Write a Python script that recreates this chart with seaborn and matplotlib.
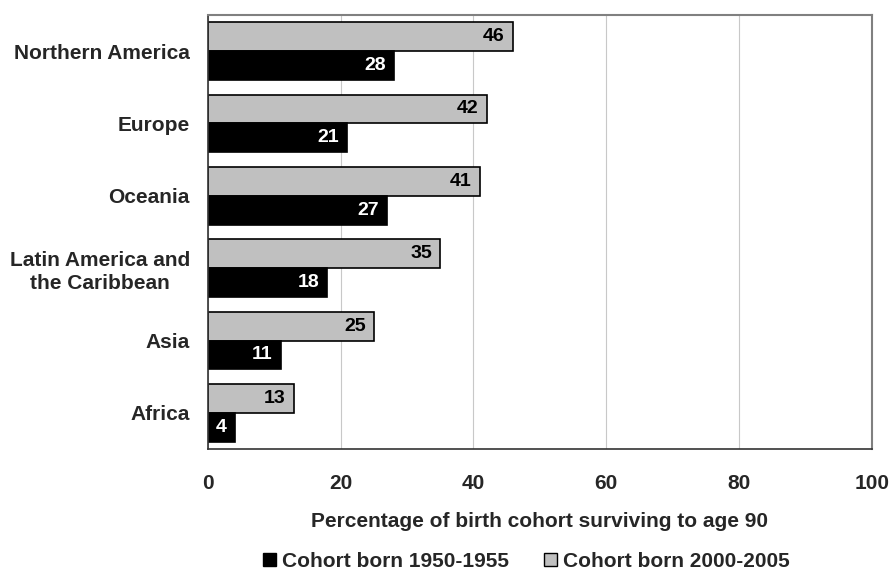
import matplotlib
matplotlib.use("Agg")
import matplotlib.pyplot as plt
from matplotlib.patches import Patch
import seaborn as sns
import pandas as pd

regions = ["Northern America", "Europe", "Oceania",
           "Latin America and\nthe Caribbean", "Asia", "Africa"]
cohort_2000 = [46, 42, 41, 35, 25, 13]
cohort_1950 = [28, 21, 27, 18, 11, 4]
label_2000 = "Cohort born 2000-2005"
label_1950 = "Cohort born 1950-1955"
x_ticks = [0, 20, 40, 60, 80, 100]

df = pd.DataFrame({
    "region": regions * 2,
    "value": cohort_2000 + cohort_1950,
    "cohort": [label_2000] * len(regions) + [label_1950] * len(regions),
})

sns.set_theme(style="white")
plt.rcParams["font.family"] = ["Liberation Sans", "DejaVu Sans"]
plt.rcParams["font.weight"] = "bold"

FS = 15

fig = plt.figure(figsize=(8.94, 5.75), dpi=100)
ax = fig.add_axes([0.2327, 0.2191, 0.7423, 0.7549])

palette = {label_2000: "#c0c0c0", label_1950: "#000000"}
sns.barplot(data=df, y="region", x="value", hue="cohort",
            hue_order=[label_2000, label_1950], order=regions,
            palette=palette, orient="h", width=0.8, saturation=1,
            edgecolor="black", linewidth=1.2, legend=False, ax=ax)

# value labels just inside the end of each bar
for cont, color in zip(ax.containers, ["black", "white"]):
    for bar, val in zip(cont, cont.datavalues):
        ax.annotate(f"{val:.0f}",
                    xy=(bar.get_x() + bar.get_width(),
                        bar.get_y() + bar.get_height() / 2),
                    xytext=(-6, 0), textcoords="offset points",
                    ha="right", va="center", color=color,
                    fontsize=14, fontweight="bold")

ax.set_xlim(0, 100)
ax.set_xticks(x_ticks)
ax.set_xticklabels([str(t) for t in x_ticks], fontsize=FS, fontweight="bold")
ax.set_ylim(len(regions) - 0.5, -0.5)
ax.set_yticks(range(len(regions)))
ax.set_yticklabels(regions, fontsize=FS, fontweight="bold", ha="right",
                   multialignment="center", linespacing=1.25)
ax.set_yticks([i - 0.5 for i in range(len(regions) + 1)], minor=True)
ax.tick_params(axis="y", which="major", length=0, pad=13)
ax.tick_params(axis="y", which="minor", length=6, width=1, color="#555555",
               direction="out")
ax.tick_params(axis="x", which="major", length=6, width=1, color="#333333",
               direction="out", pad=12)
ax.grid(axis="x", color="#c8c8c8", linewidth=0.8)
ax.set_axisbelow(True)

for side in ["top", "right"]:
    ax.spines[side].set_color("#808080")
    ax.spines[side].set_linewidth(1.5)
ax.spines["left"].set_color("#333333")
ax.spines["bottom"].set_color("#333333")
ax.spines["left"].set_linewidth(1.2)
ax.spines["bottom"].set_linewidth(1.2)

ax.set_ylabel("")
ax.set_xlabel("Percentage of birth cohort surviving to age 90",
              fontsize=FS, fontweight="bold", labelpad=14)

handles = [Patch(facecolor="black", edgecolor="black", label=label_1950),
           Patch(facecolor="#c0c0c0", edgecolor="black", label=label_2000)]
fig.legend(handles=handles, loc="center", bbox_to_anchor=(0.589, 0.024),
           ncol=2, frameon=False, handlelength=0.6, borderpad=0.1,
           handleheight=0.6, handletextpad=0.3, columnspacing=1.7,
           prop={"weight": "bold", "size": FS})

fig.savefig("out.png", dpi=100)
